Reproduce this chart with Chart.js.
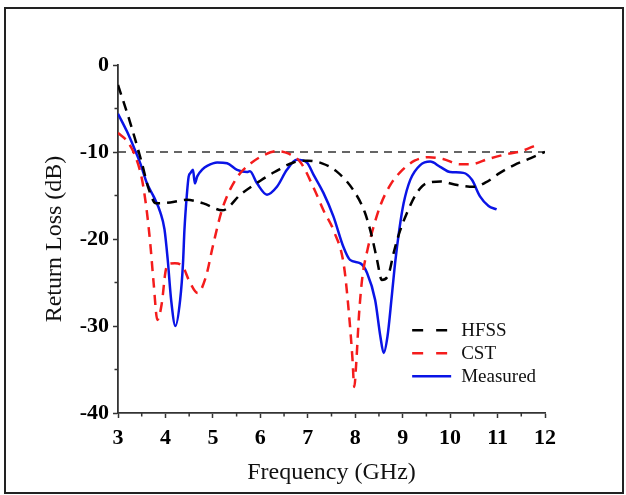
<!DOCTYPE html>
<html>
<head>
<meta charset="utf-8">
<script src="https://cdn.jsdelivr.net/npm/chart.js@4.4.1/dist/chart.umd.min.js"></script>
<style>
  html, body { margin: 0; padding: 0; background: #fff; }
  #wrap { position: relative; width: 626px; height: 495px; }
  canvas { display: block; }
</style>
</head>
<body>
<div id="wrap"><canvas id="c" width="626" height="495"></canvas></div>
<script>
// ---- Data ----
const seriesNames = ["HFSS", "CST", "Measured"];

const hfssFreq = [3.0, 3.25, 3.5, 3.65, 3.8, 4.1, 4.45, 4.8, 5.2, 5.6, 6.0, 6.3, 6.7, 7.0, 7.3, 7.6, 7.95, 8.2, 8.35, 8.46, 8.56, 8.7, 8.81, 8.9, 9.09, 9.3, 9.5, 9.8, 10.15, 10.5, 10.75, 11.05, 11.35, 11.7, 12.0];
const hfssLoss = [-2.3, -6.5, -11.2, -14.3, -15.9, -15.8, -15.5, -15.9, -16.7, -14.8, -13.3, -12.3, -11.2, -11.0, -11.3, -12.2, -14.3, -16.9, -19.7, -22.4, -24.7, -24.1, -21.6, -19.8, -17.0, -14.7, -13.6, -13.4, -13.8, -14.0, -13.5, -12.4, -11.5, -10.7, -10.0];

const cstFreq = [3.0, 3.2, 3.35, 3.5, 3.6, 3.68, 3.75, 3.83, 3.92, 4.0, 4.05, 4.2, 4.37, 4.5, 4.68, 4.85, 5.0, 5.2, 5.5, 5.8, 6.1, 6.35, 6.6, 6.85, 7.13, 7.34, 7.55, 7.76, 7.87, 7.94, 7.98, 8.02, 8.08, 8.15, 8.26, 8.36, 8.54, 8.75, 8.97, 9.25, 9.55, 9.85, 10.2, 10.45, 10.8, 11.15, 11.5, 11.82];
const cstLoss = [-7.8, -8.8, -10.3, -13.0, -16.5, -20.5, -25.0, -29.3, -27.5, -23.8, -22.9, -22.8, -23.2, -24.8, -26.2, -24.4, -20.8, -16.5, -13.0, -11.3, -10.3, -9.9, -10.2, -11.2, -14.2, -16.8, -19.1, -23.0, -28.7, -33.6, -37.0, -34.4, -28.7, -24.4, -21.2, -19.1, -16.0, -13.7, -12.2, -11.0, -10.6, -10.8, -11.4, -11.4, -10.8, -10.3, -9.9, -9.2];

const measFreq = [3.0, 3.19, 3.33, 3.47, 3.61, 3.75, 3.89, 3.98, 4.05, 4.12, 4.21, 4.31, 4.37, 4.4, 4.45, 4.49, 4.53, 4.58, 4.62, 4.67, 4.78, 4.88, 5.09, 5.3, 5.51, 5.72, 5.78, 5.93, 6.14, 6.35, 6.56, 6.77, 6.98, 7.12, 7.33, 7.54, 7.75, 7.89, 8.11, 8.25, 8.42, 8.53, 8.6, 8.68, 8.77, 8.84, 8.93, 9.02, 9.16, 9.37, 9.58, 9.79, 10.0, 10.28, 10.46, 10.63, 10.81, 10.98];
const measLoss = [-5.6, -7.65, -9.4, -11.3, -13.6, -15.1, -16.9, -18.9, -22.5, -27.0, -30.0, -27.0, -22.8, -19.0, -15.0, -12.8, -12.4, -12.05, -13.6, -12.8, -12.0, -11.6, -11.2, -11.3, -12.05, -12.3, -12.2, -13.6, -14.9, -14.0, -12.05, -10.9, -11.2, -12.6, -14.7, -17.4, -20.9, -22.4, -22.8, -23.9, -27.0, -31.2, -33.1, -31.2, -26.6, -22.8, -18.9, -15.9, -13.2, -11.5, -11.1, -11.7, -12.3, -12.4, -13.2, -15.1, -16.2, -16.6];

const refFreq = [3, 12];
const refLoss = [-10, -10];

const xTicks = [3, 4, 5, 6, 7, 8, 9, 10, 11, 12];
const yTicks = [0, -10, -20, -30, -40];
const xMinorTicks = [3.5, 4.5, 5.5, 6.5, 7.5, 8.5, 9.5, 10.5, 11.5];
const yMinorTicks = [-5, -15, -25, -35];

const xTitle = "Frequency (GHz)";
const yTitle = "Return Loss (dB)";

// ---- Build ----
const toPts = (xs, ys) => xs.map((x, i) => ({ x: x, y: ys[i] }));
const SERIF = "'Liberation Serif', 'Times New Roman', serif";

const datasets = [
  { label: seriesNames[0], data: toPts(hfssFreq, hfssLoss), borderColor: "#000000", borderWidth: 2.5, borderDash: [10, 7], showInLegend: true },
  { label: seriesNames[1], data: toPts(cstFreq, cstLoss), borderColor: "#f41c1c", borderWidth: 2.5, borderDash: [10, 7], showInLegend: true },
  { label: seriesNames[2], data: toPts(measFreq, measLoss), borderColor: "#0a14e6", borderWidth: 2.5, borderDash: [], showInLegend: true },
  { label: "-10 dB", data: toPts(refFreq, refLoss), borderColor: "#333333", borderWidth: 1.6, borderDash: [8, 6], showInLegend: false, cubicInterpolationMode: "default", tension: 0 }
].map(d => Object.assign({ pointRadius: 0, fill: false, cubicInterpolationMode: "monotone", borderCapStyle: "butt" }, d));

const frameAndMinor = {
  id: "frameAndMinor",
  beforeDraw(chart) {
    const ctx = chart.ctx;
    ctx.save();
    ctx.fillStyle = "#fff";
    ctx.fillRect(0, 0, chart.width, chart.height);
    ctx.strokeStyle = "#222";
    ctx.lineWidth = 2;
    ctx.strokeRect(5, 8, 618, 485);
    ctx.restore();
  },
  afterDraw(chart) {
    const ctx = chart.ctx;
    const xs = chart.scales.x, ys = chart.scales.y;
    const a = chart.chartArea;
    ctx.save();
    ctx.strokeStyle = "#333";
    ctx.lineWidth = 1.5;
    ctx.beginPath();
    xMinorTicks.forEach(v => { const px = xs.getPixelForValue(v); ctx.moveTo(px, a.bottom); ctx.lineTo(px, a.bottom + 3.5); });
    yMinorTicks.forEach(v => { const py = ys.getPixelForValue(v); ctx.moveTo(a.left, py); ctx.lineTo(a.left - 3.5, py); });
    ctx.stroke();

    // legend
    const items = chart.data.datasets.filter(d => d.showInLegend);
    const lx0 = xs.getPixelForValue(9.2), lx1 = lx0 + 39;
    let ly = ys.getPixelForValue(-30.5);
    ctx.font = "19px " + SERIF;
    ctx.textBaseline = "middle";
    ctx.fillStyle = "#111";
    items.forEach(d => {
      ctx.strokeStyle = d.borderColor;
      ctx.lineWidth = d.borderWidth;
      ctx.setLineDash(d.borderDash.length ? [11, 13] : []);
      ctx.beginPath(); ctx.moveTo(lx0, ly); ctx.lineTo(lx1, ly); ctx.stroke();
      ctx.setLineDash([]);
      ctx.fillText(d.label, lx1 + 10, ly + 1);
      ly += 23;
    });
    ctx.restore();
  }
};

new Chart(document.getElementById("c"), {
  type: "line",
  data: { datasets },
  options: {
    responsive: false,
    animation: false,
    devicePixelRatio: 1,
    layout: { padding: { left: 0, top: 65, right: 81, bottom: 0 } },
    plugins: { legend: { display: false }, tooltip: { enabled: false } },
    scales: {
      x: {
        type: "linear", min: 3, max: 12,
        afterFit: s => { s.height = 82; },
        afterBuildTicks: s => { s.ticks = xTicks.map(v => ({ value: v })); },
        ticks: { font: { family: SERIF, size: 22, weight: "bold" }, color: "#000", padding: 7, callback: v => String(v), maxRotation: 0 },
        grid: { drawOnChartArea: false, drawTicks: true, tickLength: 5, tickWidth: 1.5, tickColor: "#333" },
        border: { display: true, color: "#333", width: 1.8 },
        title: { display: true, text: xTitle, font: { family: SERIF, size: 24 }, color: "#111", padding: { top: 0, bottom: 8 } }
      },
      y: {
        type: "linear", min: -40, max: 0,
        afterFit: s => { s.width = 118; },
        afterBuildTicks: s => { s.ticks = yTicks.slice().reverse().map(v => ({ value: v })); },
        ticks: { font: { family: SERIF, size: 22, weight: "bold" }, color: "#000", padding: 4, callback: v => String(v) },
        grid: { drawOnChartArea: false, drawTicks: true, tickLength: 5, tickWidth: 1.5, tickColor: "#333" },
        border: { display: true, color: "#333", width: 1.8 },
        title: { display: true, text: yTitle, font: { family: SERIF, size: 24 }, color: "#111", padding: { top: 40, bottom: 0 } }
      }
    }
  },
  plugins: [frameAndMinor]
});
</script>
</body>
</html>
